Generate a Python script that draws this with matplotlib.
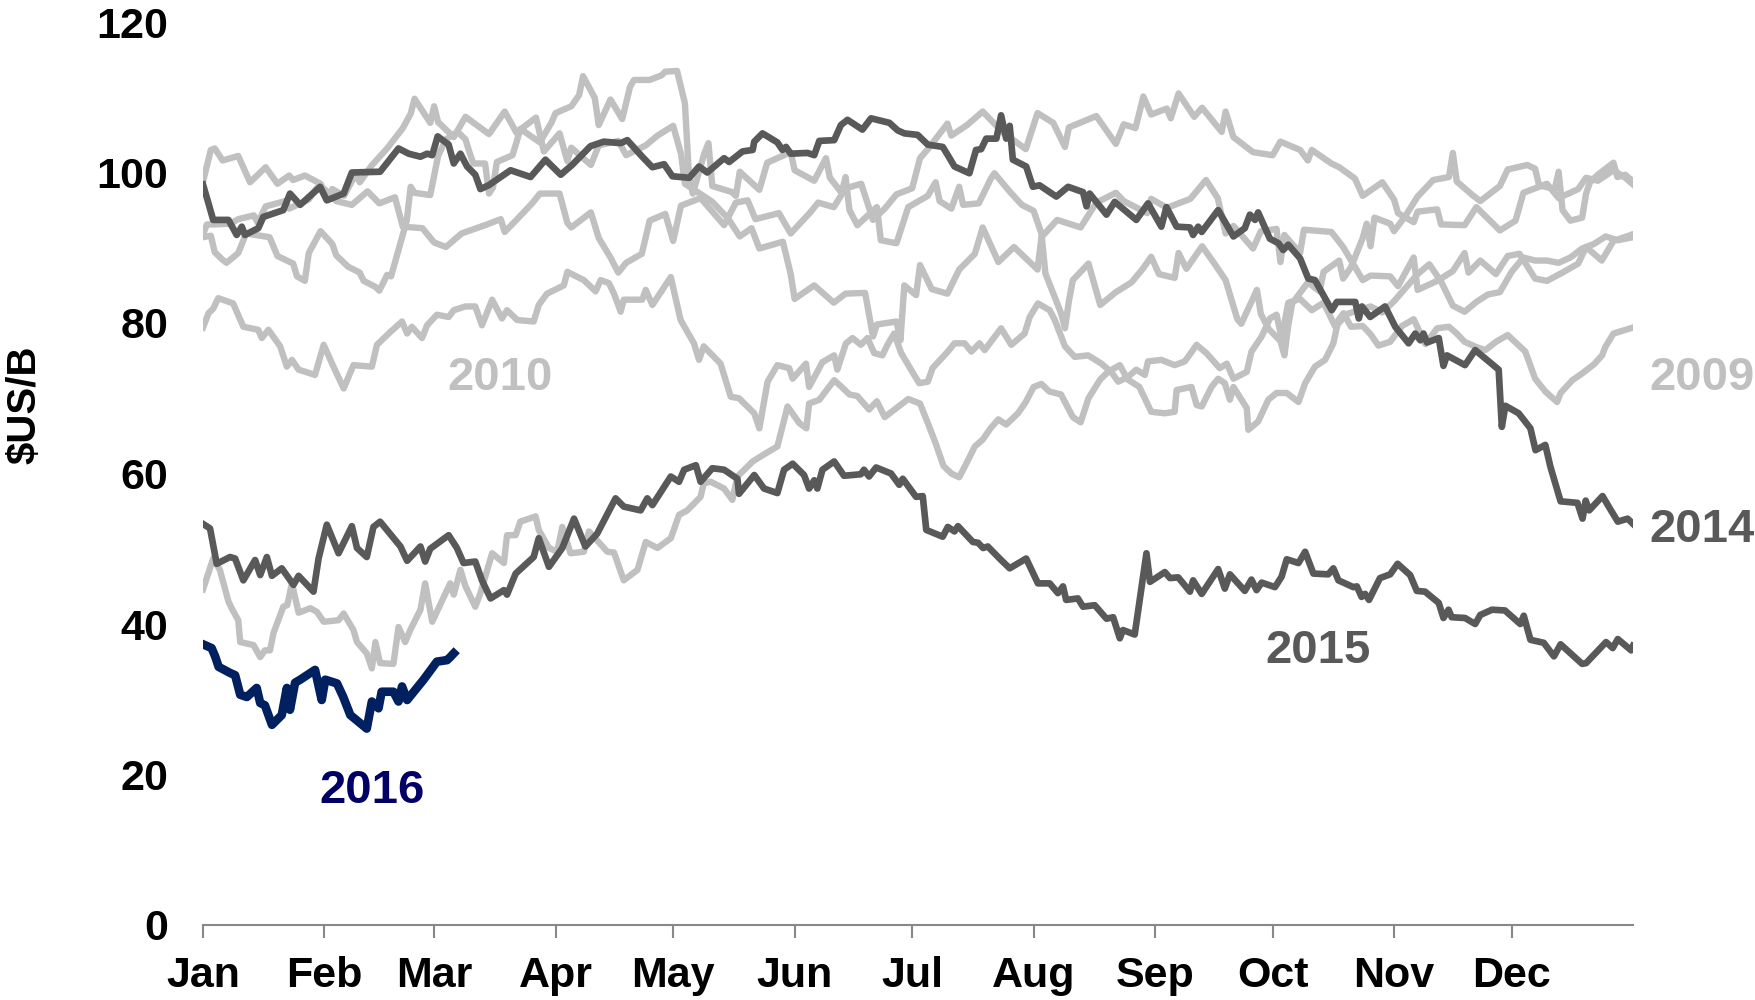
import matplotlib
matplotlib.use("Agg")
import matplotlib.pyplot as plt

plt.rcParams['font.family'] = ['Liberation Sans', 'DejaVu Sans']
plt.rcParams['font.weight'] = 'bold'

# day of year (0 = 1 Jan) and price in $US/B
y2009 = [(0, 44.6), (2.6, 48.7), (4.3, 47.2), (6.5, 43), (7.3, 42.1), (9, 40.5), (9.5, 37.6), (12.9, 37.2),
         (14.6, 35.6), (15.8, 36.5), (17.1, 36.5), (18, 38.8), (20.5, 42.3), (21.5, 42.5), (22.7, 45.4),
         (24.4, 41.5), (27.4, 42.1), (29.1, 41.6), (30.8, 40.3), (34.6, 40.5), (35.9, 41.4), (38.4, 39.2),
         (39.3, 37.6), (41.8, 36.1), (43.1, 34.1), (44, 37.6), (45.2, 34.8), (48.6, 34.7), (49.9, 39.6),
         (51.6, 37.6), (52.9, 39.2), (55.5, 41.9), (56.7, 45.4), (58.5, 40.3), (63.1, 45.4), (64, 43.9),
         (65.7, 47.2), (67, 45), (69.5, 42.3), (70.8, 44.1), (73.8, 49.4), (76.8, 48.1), (77.6, 51.8),
         (79.8, 51.8), (81, 53.6), (84.9, 54.3), (85.7, 52.5), (88.3, 50.1), (90.4, 49.6), (91.7, 52.9),
         (93.8, 49.4), (97.2, 49.6), (98.5, 52.3), (103.2, 49.6), (104.9, 49.5), (107.4, 45.8), (110.9, 47.2),
         (113, 50.9), (116, 50.1), (119.4, 51.4), (121.5, 54.5), (123.6, 55.1), (127, 56.9), (127.8, 58.7),
         (129.6, 58.9), (133, 58), (135.1, 56.5), (136.4, 59.6), (140.3, 61.6), (143.7, 62.7), (146.6, 63.6),
         (149.2, 68.9), (152.2, 66.7), (154, 66), (154.7, 69.3), (157.3, 69.8), (161.1, 72.4), (163, 71.5),
         (165, 70.5), (167, 70.3), (170, 68.5), (172, 69.6), (174, 67.5), (177, 68.7), (180, 69.9),
         (183, 69.3), (185, 66.7), (187, 64), (189, 61), (191, 60), (193, 59.5), (195, 61.5), (197, 63.6),
         (199, 64.5), (201, 66), (203, 67.2), (205, 66.5), (208, 68), (210, 69.5), (212, 71.5), (214, 71.9),
         (216, 70.9), (219, 70.5), (222, 67.5), (224, 66.8), (226, 70), (229, 72.5), (231, 73.5), (234, 74.4),
         (236, 72.5), (239, 71.5), (242, 68.2), (245.5, 68), (248, 68.2), (248.5, 71.1), (252.3, 71.5),
         (253.6, 69.1), (254.9, 68.9), (257.4, 71.5), (259.1, 72.6), (260.8, 72), (262.1, 69.8), (263, 71.5),
         (266.4, 68.7), (266.8, 65.8), (269.3, 66.9), (271.9, 69.8), (274, 70.7), (276.6, 70.7), (279.6, 69.5),
         (281.3, 72), (283.8, 74.2), (286.4, 75.1), (288.5, 77.3), (289.8, 80.4), (291.1, 81.3), (293, 79.5),
         (296, 79.6), (298, 78.5), (300, 77), (303, 77.5), (306, 79.6), (309, 80.5), (312, 77.2), (315, 79.3),
         (318, 79.5), (320, 78.6), (322, 77.5), (325, 76.8), (327.3, 76.4), (330, 77.5), (333, 78.4),
         (337.5, 76.2), (340, 72.6), (342.6, 70.9), (345.6, 69.5), (346.5, 70.7), (349.5, 72.4), (352, 73.3),
         (355, 74.5), (357.1, 75.7), (357.9, 76.8), (360, 78.6), (365, 79.4)]

y2010 = [(0, 79.4), (1.4, 81.3), (2.6, 81.9), (3.9, 83.3), (7.7, 82.6), (10.3, 79.5), (14.1, 79.1), (15, 78),
         (16.7, 79.1), (19.7, 76.9), (21.4, 74.2), (22.7, 75.1), (24.4, 73.8), (28.6, 73.1), (30.8, 77.1),
         (33.3, 74.2), (35.9, 71.3), (38.4, 74.4), (43.1, 74.2), (44.4, 77.1), (47.8, 78.8), (50.8, 80.2),
         (52.1, 78.6), (53.3, 79.5), (55.9, 78), (57.2, 79.7), (59.7, 81.1), (62.7, 80.8), (64, 81.7),
         (67, 82.2), (69.5, 82.2), (71.2, 79.7), (73.8, 83.1), (76.3, 80.6), (77.6, 81.7), (80.2, 80.4),
         (84.4, 80.2), (85.7, 82.4), (87.8, 83.9), (92.1, 85), (93, 86.8), (97.2, 85.7), (100.2, 84.2),
         (101.5, 85.7), (103.6, 85.3), (104.9, 83.9), (106.6, 81.5), (107.4, 83.1), (112.1, 83.1), (113, 84.4),
         (114.7, 82.4), (119.4, 86.1), (121.9, 80.4), (125.3, 77.3), (126.6, 75.1), (127.8, 76.9), (132.1, 74.6),
         (133.4, 72.4), (134.7, 70.2), (136.8, 70), (140.7, 68), (142, 66), (144.1, 72.2), (146.6, 74.4),
         (149.6, 74), (150.5, 72.6), (153.9, 74.6), (154.7, 71.5), (158.1, 74.8), (161.1, 75.7), (161.9, 73.8),
         (164.1, 77.3), (165.8, 78), (167.9, 77.1), (169.6, 78), (171.3, 76), (173.4, 75.7), (174.7, 77.1),
         (176.4, 78.6), (178.2, 76), (180.7, 73.8), (182.8, 72), (185, 72.2), (186.2, 74), (190.1, 76.2),
         (191.8, 77.3), (194.4, 77.3), (196.1, 76.2), (198.2, 77.3), (199.5, 76.4), (202.1, 78.2), (203.7, 79.3),
         (206.3, 77.1), (209.7, 78.6), (211, 80.8), (213.1, 82.6), (216.1, 81.7), (217.4, 80.4), (220, 76.9),
         (222.5, 75.5), (225.9, 75.7), (229.3, 74.6), (231.8, 73.5), (233.6, 72.2), (236, 72.8), (238.2, 73.8),
         (240.4, 73.1), (241.2, 74.9), (244.6, 75.1), (248, 74.4), (250.6, 74.9), (253.6, 77.1), (256.1, 76),
         (259.5, 74), (261.3, 74.6), (263, 72.6), (266.4, 73.5), (267.6, 76.2), (270.2, 78.2), (272.3, 80.6),
         (274, 81.1), (275.3, 78), (277, 82.7), (280, 83.2), (283, 81.7), (286, 82.7), (289, 79.5), (292, 81.2),
         (295, 81.7), (298, 82.2), (301, 81.4), (304, 82.9), (307, 84.7), (310, 86.5), (313, 87.8), (316, 85.5),
         (319, 82.3), (322, 81.5), (325, 82.8), (328, 83.8), (331, 84.1), (334, 86.8), (337, 88.7), (340, 88.3),
         (343, 88.3), (346, 88), (349, 88.7), (352, 89.9), (355, 90.5), (358, 91.5), (361, 91), (365, 91.4)]

y2011 = [(0, 91.4), (2, 91.6), (3, 89.4), (5, 88.4), (6, 88), (9, 89.3), (11, 91.9), (17, 91.4), (19, 88.9),
         (23, 87.9), (24, 86.2), (26, 85.6), (27, 89.3), (30, 92.2), (33, 90.5), (34, 89), (37, 87.5),
         (40, 86.7), (41, 85.6), (44, 84.8), (45, 84.3), (47, 86.4), (48, 86.2), (52, 93.6), (53, 98.1),
         (54, 97.3), (58, 97), (59, 99.6), (60, 102.2), (62, 104.4), (65, 105.4), (67, 104.4), (68, 102.7),
         (69, 101.2), (72, 101.2), (73, 97.2), (74, 98), (75, 101.4), (79, 102.3), (80, 104), (81, 105.8),
         (86, 104), (89, 106.7), (90, 107.9), (94, 108.8), (96, 110.3), (97, 112.8), (100, 109.9),
         (101, 106.3), (104, 109.7), (107, 107.1), (109, 111.4), (110, 112.3), (114, 112.3), (117, 112.9),
         (118, 113.4), (121, 113.5), (123, 109.2), (124, 99.8), (125, 97.2), (128, 102.6), (129, 103.9),
         (130, 98.2), (135, 97.4), (136, 96.9), (137, 100.1), (142, 97.7), (144, 101.3), (150, 102.7),
         (151, 100.3), (156, 98.9), (159, 101.9), (160, 99.3), (163, 97.3), (164, 99.4), (165, 95),
         (167, 93), (172, 95.4), (173, 91), (177, 90.6), (180, 95.4), (185, 96.9), (187, 98.7), (188, 96.2),
         (191, 95.2), (193, 98.1), (194, 95.7), (198, 95.9), (201, 99.1), (202, 99.9), (206, 97.4),
         (209, 95.7), (212, 94.9), (214, 91.9), (215, 86.6), (219, 81.3), (220, 79.3), (221, 82.9),
         (222, 85.7), (226, 87.9), (229, 82.4), (233, 84.1), (237, 85.4), (240, 87.3), (242, 88.8),
         (244, 86.5), (248, 86), (249, 89.3), (251, 87.2), (255, 90.2), (258, 88), (261, 85.7), (264, 80.5),
         (265, 79.9), (269, 84.4), (270, 81.2), (272, 79.2), (275, 77.6), (276, 75.7), (277, 79.7),
         (278, 82.6), (282, 85.4), (285, 84.2), (286, 86.8), (290, 88.3), (291, 85.9), (293, 87.4),
         (296, 91.3), (297, 93.2), (298, 90.2), (299, 94), (303, 93.2), (304, 92.2), (307, 94.3), (310, 96.8),
         (314, 99), (318, 99.4), (319, 102.6), (320, 98.8), (324, 97), (326, 96.2), (331, 98.2), (333, 100.4),
         (338, 101), (340, 100.5), (341, 98.3), (345, 97.8), (346, 100.1), (347, 95), (349, 93.6), (352, 94),
         (353, 97.2), (354, 98.7), (356, 99.7), (360, 101.3), (361, 99.4), (363, 99.7), (365, 98.8)]

y2012 = [(0, 98.8), (2, 103), (3, 103.2), (5, 101.6), (9, 102.2), (12, 98.7), (16, 100.7), (19, 98.5),
         (22, 99.6), (23, 99), (26, 99.6), (30, 98.5), (32, 96.4), (33, 97.8), (36, 96.9), (39, 99.8),
         (40, 98.7), (43, 100.9), (47, 103.2), (51, 105.9), (53, 107.8), (54, 109.8), (58, 106.6),
         (59, 108.8), (60, 106.7), (64, 104.7), (67, 107.4), (73, 105.1), (77, 108.1), (80, 105.3),
         (85, 107.3), (87, 102.8), (91, 105.2), (93, 101.5), (94, 103.3), (99, 101), (101, 103.6),
         (106, 104.2), (108, 102.3), (113, 103.6), (116, 104.9), (120, 106.2), (122, 102.5), (123, 98.5),
         (128, 96.8), (130, 96.1), (134, 93.9), (137, 91.5), (140, 92.6), (142, 89.9), (148, 90.8),
         (150, 86.5), (151, 83.2), (156, 85), (161, 82.7), (164, 83.9), (169, 84), (171, 78.2), (172, 79.8),
         (177, 80.2), (178, 77.7), (179, 85), (182, 83.7), (183, 87.7), (186, 84.5), (190, 83.9),
         (193, 87.1), (197, 89.2), (199, 92.7), (203, 88.1), (207, 90.1), (211, 88.1), (213, 87.1),
         (214, 91.4), (218, 93.7), (224, 92.7), (228, 96), (233, 97.3), (235, 96.2), (241, 94.6), (242, 96.5),
         (246, 95.3), (252, 96.5), (256, 99), (259, 96.6), (261, 91.9), (263, 92.9), (268, 89.9), (270, 92.2),
         (274, 92.5), (275, 88.1), (276, 91.7), (280, 89.3), (281, 92.4), (288, 92.1), (291, 90.1),
         (296, 85.7), (298, 86.3), (303, 86.2), (305, 84.9), (309, 88.7), (310, 84.4), (315, 85.6),
         (319, 86.9), (322, 89.3), (323, 86.7), (326, 88.3), (330, 86.5), (333, 88.9), (336, 89.2),
         (340, 85.9), (343, 85.6), (347, 86.7), (351, 87.9), (353, 90.1), (357, 88.3), (360, 90.9), (365, 91.8)]

y2013 = [(0, 91.8), (1, 93.1), (3, 93.1), (7, 93.2), (9, 93.8), (13, 94.3), (14, 93.3), (16, 95.5),
         (21, 96.2), (22, 95.2), (27, 96.4), (29, 97.9), (31, 97.8), (34, 96.2), (38, 95.7), (42, 97.5),
         (45, 95.9), (49, 96.7), (51, 92.8), (56, 92.6), (59, 90.7), (62, 90.1), (66, 91.9), (72, 93),
         (76, 93.8), (77, 92.1), (80, 93.7), (84, 95.9), (86, 97.2), (91, 97.2), (93, 93.3), (94, 92.7),
         (99, 94.7), (101, 91.3), (104, 88.7), (106, 86.7), (108, 88), (112, 89.2), (114, 93.6), (118, 94.5),
         (120, 90.9), (122, 95.6), (127, 96.6), (133, 93), (136, 96), (139, 96.3), (141, 93.8), (147, 94.6),
         (150, 91.9), (155, 94.7), (157, 96), (161, 95.4), (164, 97.9), (168, 98.5), (171, 93.7), (174, 95.2),
         (177, 97.1), (181, 97.9), (183, 101.9), (185, 103.1), (190, 106.5), (191, 104.9), (195, 106.3),
         (199, 108.1), (204, 105.4), (210, 103.1), (213, 107.9), (217, 106.6), (220, 103.4), (221, 106),
         (228, 107.5), (233, 103.8), (235, 106.4), (238, 105.9), (240, 110.1), (242, 107.7), (246, 108.5),
         (247, 107.2), (249, 110.5), (253, 107.4), (255, 108.6), (260, 105.4), (261, 108.1), (263, 104.7),
         (268, 102.7), (273, 102.3), (275, 104.1), (280, 103), (282, 101.6), (283, 103), (288, 101.2),
         (290, 100.7), (294, 99.2), (296, 96.9), (301, 98.7), (304, 96.4), (305, 94.6), (309, 93.4),
         (310, 94.8), (315, 95.1), (316, 93.1), (322, 93), (325, 95.4), (331, 92.3), (335, 93.6), (337, 97.3),
         (339, 97.7), (343, 98.5), (346, 96.6), (351, 97.8), (353, 99.3), (356, 98.9), (360, 100.3),
         (363, 99.3), (365, 98.4)]

y2014 = [(0, 98.4), (1.4, 95.9), (2.6, 93.7), (6.5, 93.7), (8.6, 91.7), (9.9, 92.8), (10.7, 91.7), (14.1, 92.6),
         (15.4, 94.1), (20.5, 95), (22.2, 97.2), (24.8, 95.7), (28.6, 97.5), (29.9, 98.1), (31.6, 96.3),
         (35.9, 97.2), (38, 100), (45.2, 100.1), (49.9, 103.2), (52.5, 102.5), (55.5, 102.1), (57.2, 102.5),
         (58.5, 102.3), (59.9, 104.8), (62.7, 103.7), (64, 101.2), (65.7, 102.5), (67.4, 100.8), (69.5, 99.7),
         (70.8, 97.8), (72.9, 98.3), (78.5, 100.3), (83.6, 99.4), (87.4, 101.7), (91.3, 99.7), (94.2, 101),
         (98.9, 103.5), (102.3, 104.1), (106.6, 103.9), (108.3, 104.3), (112.1, 102.1), (114.7, 100.7),
         (117.7, 101.1), (119.8, 99.5), (124.1, 99.3), (126.6, 100.8), (128.7, 100), (133, 101.9),
         (134.3, 101.4), (137.7, 102.8), (140.3, 103), (140.7, 104.1), (142.8, 105.2), (146.6, 104),
         (147.9, 103), (148.8, 103.4), (150, 102.5), (154.3, 102.6), (156, 102.3), (157.3, 104.2),
         (161.1, 104.3), (162.8, 106.3), (164.5, 107), (168.3, 105.7), (170.5, 107.2), (175.2, 106.6),
         (177.3, 105.6), (179, 105.2), (182.4, 105), (185, 103.7), (188.8, 103.4), (190.1, 102.3),
         (191.8, 100.8), (195.6, 99.9), (197.3, 103), (198.6, 103.1), (199.9, 104.5), (202.5, 104.5),
         (203.7, 107.6), (205, 104.5), (205.9, 106.2), (206.7, 101.7), (210.1, 100.8), (211.8, 98.1),
         (213.5, 98.3), (217.8, 96.8), (220.8, 98.1), (224.6, 97.4), (225.5, 95.5), (226.3, 97.2),
         (230.6, 94.4), (232.7, 96.1), (238.2, 93.7), (241.2, 95.9), (244.6, 92.8), (245.9, 95.4),
         (248.5, 92.8), (251.9, 92.7), (252.7, 91.7), (254, 92.8), (254.9, 92.1), (259.1, 95), (263, 91.5),
         (265.9, 92.6), (267.2, 94.4), (268.5, 93.7), (269.3, 94.7), (272.3, 91.2), (274.5, 90.6),
         (275.7, 89.7), (277, 90.4), (280, 88.6), (282.1, 85.9), (283.8, 85.7), (288.1, 81.7), (289.4, 82.8),
         (294.1, 82.8), (295, 80.6), (295.8, 82.2), (297.9, 80.8), (301.7, 82.2), (304.3, 79.5), (307.7, 77.3),
         (309.4, 78.6), (310.7, 77.7), (311.5, 78.6), (312.4, 77.4), (315.4, 78), (316.6, 74.3), (317.5, 75.7),
         (322.1, 74.4), (324.7, 76.4), (330.7, 73.8), (331.5, 66.2), (332.4, 69), (335.8, 68), (338.8, 66),
         (340.1, 63.1), (342.6, 63.8), (343.9, 60.9), (346.5, 56.3), (350.8, 56.1), (352.1, 54), (352.9, 56.4),
         (353.8, 55.1), (357.2, 57), (358.9, 55.5), (361.1, 53.6), (363.6, 54), (365, 53.3)]

y2015 = [(0, 53.3), (1.8, 52.7), (3.5, 48), (6.9, 48.9), (8.2, 48.7), (10.3, 45.8), (13.3, 48.5), (14.6, 46.5),
         (16.3, 48.9), (17.6, 46.4), (20.1, 47.4), (23.1, 45.2), (24.4, 46.4), (28.2, 44.3), (29.5, 48.7),
         (31.6, 53.2), (34.6, 49.4), (38, 53), (39.3, 50.1), (41.8, 48.9), (43.5, 52.9), (45.2, 53.6),
         (50.4, 50.3), (52.1, 48.4), (55.5, 50.3), (56.7, 48.3), (58, 50), (62.7, 51.8), (64.8, 50.1),
         (66.5, 48.1), (69.5, 48.3), (71.2, 45.8), (73.4, 43.4), (76.8, 44.5), (77.6, 43.9), (79.8, 46.7),
         (84.4, 48.9), (85.7, 51.4), (88.3, 47.6), (91.7, 50.1), (94.7, 54), (97.6, 50.3), (100.6, 52),
         (105.3, 56.7), (107.4, 55.6), (111.7, 55.1), (113.4, 56.7), (114.7, 55.8), (119.4, 59.6),
         (121.5, 58.9), (122.8, 60.5), (125.8, 61.1), (127, 58.9), (130, 60.7), (133, 60.5), (136.4, 59.3),
         (136.8, 57.3), (140.7, 59.8), (143.2, 58), (146.6, 57.4), (148.3, 60.5), (150.5, 61.3), (153.4, 59.8),
         (154.7, 58), (156, 59.1), (156.8, 58), (158.1, 60.5), (161.1, 61.6), (163.6, 59.7), (167.9, 59.9),
         (168.7, 60.5), (170, 59.6), (171.8, 60.8), (175.6, 60), (177.7, 58.5), (178.6, 59.3), (182, 56.9),
         (183.7, 57), (184.6, 52.5), (188.8, 51.6), (190.1, 52.9), (191.8, 52.3), (192.7, 53), (196.5, 50.9),
         (197.8, 50.8), (199.1, 50.1), (200.3, 50.3), (203.7, 48.5), (205.9, 47.4), (210.1, 48.7),
         (213.1, 45.4), (216.1, 45.4), (218.2, 44.1), (219.5, 45), (220.3, 43.2), (223.3, 43.4), (224.6, 42.3),
         (227.6, 42.5), (230.6, 40.7), (232.3, 40.9), (234, 38.1), (234.8, 39.2), (237.8, 38.6), (240.8, 49.4),
         (241.7, 45.6), (245.5, 46.9), (246.8, 46.1), (248.9, 46.2), (251.9, 44.3), (252.7, 45.8), (254.9, 44),
         (259.1, 47.3), (260.8, 44.7), (262.1, 46.6), (265.9, 44.4), (267.6, 45.9), (268.9, 44.5),
         (270.2, 45.5), (273.6, 44.9), (275.3, 46.3), (276.6, 48.6), (279.6, 48.1), (281.3, 49.6),
         (283.4, 46.7), (287.2, 46.6), (288.5, 47.4), (289.8, 45.8), (293.6, 44.9), (294.5, 45), (295.7, 43.6),
         (296.6, 44), (297.6, 43.2), (300.4, 46.1), (303, 46.6), (304.9, 48), (308.1, 46.5), (309.8, 44.4),
         (311.9, 44.3), (315.4, 42.8), (316.6, 40.8), (317.9, 41.9), (318.7, 40.9), (322.1, 40.8), (324.7, 40),
         (326, 41.2), (329, 41.9), (332.3, 41.8), (334.9, 40.6), (336.2, 40), (337.1, 41.1), (338.8, 37.9),
         (342.2, 37.5), (344.8, 35.7), (346.5, 37.3), (352, 34.7), (353, 34.8), (358.1, 37.6), (359.8, 36.8),
         (361.1, 38), (364.5, 36.5), (365, 37.1)]

y2016 = [(0, 37.3), (2.2, 36.8), (3.1, 35.7), (4, 34.3), (6.9, 33.5), (8.2, 33.2), (9.5, 30.6), (11.2, 30.3),
         (13.7, 31.5), (14.6, 29.5), (15.8, 29.2), (17.6, 26.6), (20.1, 27.9), (21.4, 31.5), (22.2, 28.6),
         (23.5, 32.2), (24.8, 32.6), (28.6, 33.9), (30.3, 29.9), (31.2, 32.6), (34.2, 32.1), (35.8, 30.3),
         (37.6, 27.9), (41.8, 26.1), (43.1, 29.7), (44.8, 28.8), (45.6, 31), (48.6, 31), (49.9, 29.7),
         (50.8, 31.7), (52.1, 29.9), (56.3, 32.6), (59.7, 35), (62.3, 35.2), (63.1, 35.6), (64, 36.1)]

month_starts = [0, 31, 59, 90, 120, 151, 181, 212, 243, 273, 304, 334]
month_names = ['Jan', 'Feb', 'Mar', 'Apr', 'May', 'Jun', 'Jul', 'Aug', 'Sep', 'Oct', 'Nov', 'Dec']

light = '#c0c0c0'
dark = '#595959'
navy = '#002060'

fig = plt.figure(figsize=(17.56, 10), dpi=100)
ax = fig.add_axes([0.1156, 0.075, 0.8144, 0.903])

for series in (y2009, y2010, y2011, y2012, y2013):
    d, v = zip(*series)
    ax.plot(d, v, color=light, lw=4.6, zorder=1)
for series in (y2014, y2015):
    d, v = zip(*series)
    ax.plot(d, v, color=dark, lw=4.8, zorder=2)
d, v = zip(*y2016)
ax.plot(d, v, color=navy, lw=6.2, zorder=3)

# year labels
lab = dict(fontsize=34, fontweight='bold', ha='center', va='baseline', clip_on=False)
ax.text(75.9, 71.1, '2010', color=light, **lab)
ax.text(382.7, 71.1, '2009', color=light, **lab)
ax.text(382.7, 50.9, '2014', color=dark, **lab)
ax.text(284.7, 34.8, '2015', color=dark, **lab)
ax.text(43.1, 16.2, '2016', color='#000066', **lab)

ax.set_xlim(0, 365)
ax.set_ylim(0, 120)
ax.set_xticks(month_starts)
ax.set_xticklabels(month_names)
ax.set_yticks(range(0, 121, 20))

for s in ('top', 'right', 'left'):
    ax.spines[s].set_visible(False)
ax.spines['bottom'].set_color('#888888')
ax.spines['bottom'].set_linewidth(1.5)

ax.tick_params(axis='x', length=9.4, width=1.5, color='#888888', pad=13, labelsize=31)
ax.tick_params(axis='y', length=0, pad=25, labelsize=31)
for t in ax.get_xticklabels() + ax.get_yticklabels():
    t.set_fontweight('bold')

fig.text(25 / 1756, 1 - 405 / 1000, '$US/B', rotation=90, ha='center', va='center',
         fontsize=29, fontweight='bold')

fig.savefig('out.png', dpi=100, facecolor='white')
